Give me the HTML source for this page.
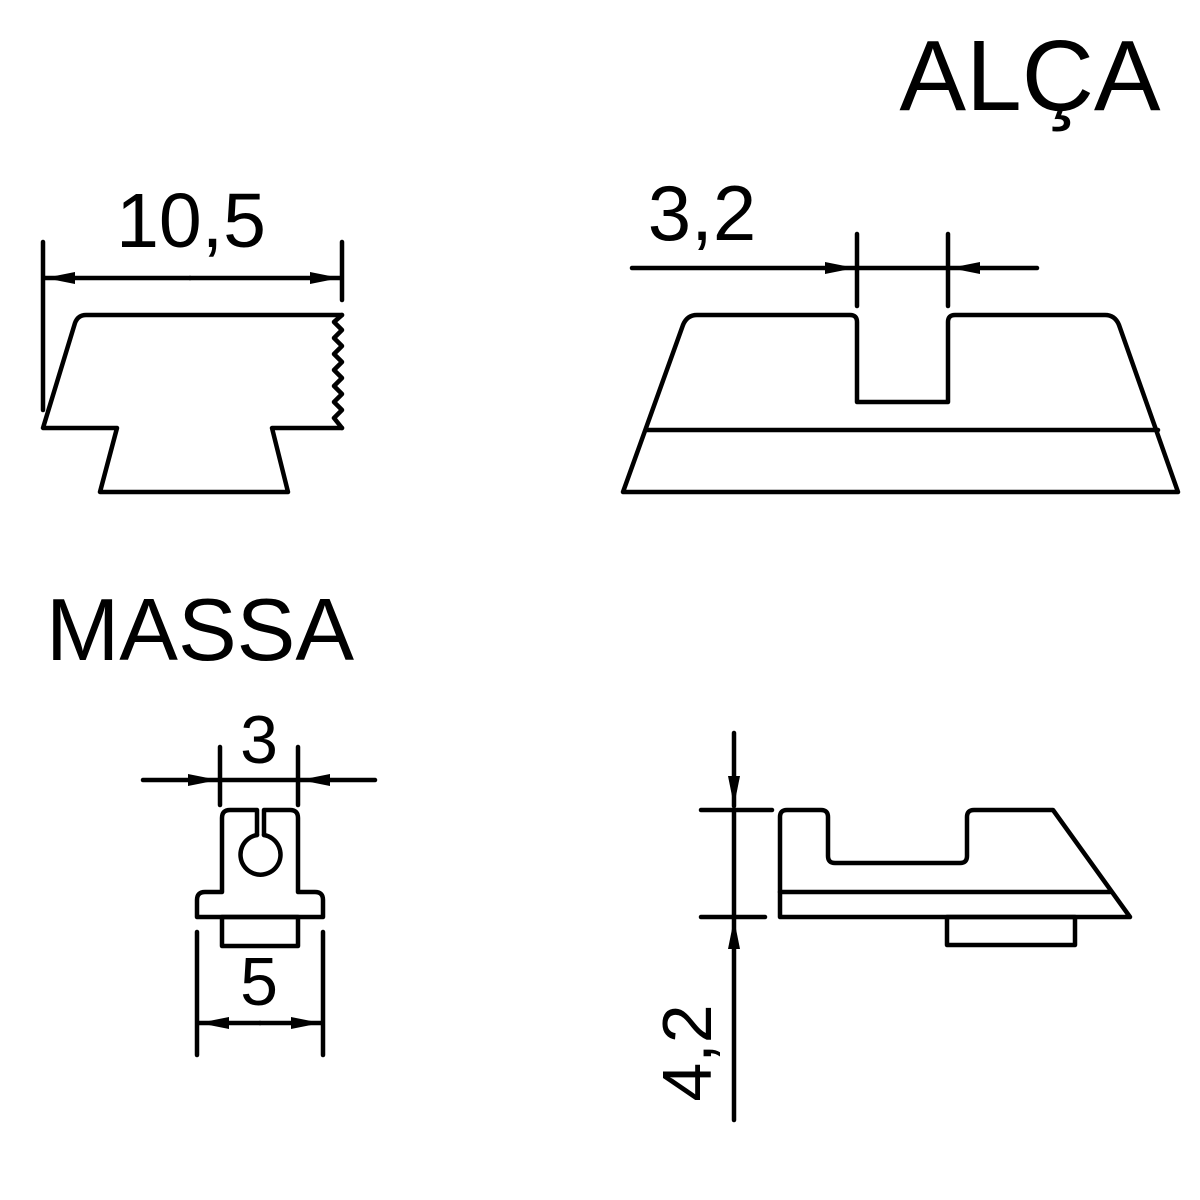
<!DOCTYPE html>
<html><head><style>body{margin:0;background:#fff}svg{display:block}</style></head><body>
<svg width="1200" height="1200" viewBox="0 0 1200 1200" xmlns="http://www.w3.org/2000/svg">
<defs>
<marker id="a" viewBox="0 0 30 12" refX="30" refY="6" markerWidth="30" markerHeight="12" markerUnits="userSpaceOnUse" orient="auto"><path d="M0,0 L30,6 L0,12 z" fill="#000"/></marker>
</defs>
<g fill="none" stroke="#000" stroke-width="4.5" stroke-linejoin="round" stroke-linecap="round">
<!-- Alça left view -->
<line x1="43" y1="242" x2="43" y2="410"/>
<line x1="342" y1="242" x2="342" y2="300"/>
<line x1="190" y1="278" x2="45" y2="278" marker-end="url(#a)"/>
<line x1="190" y1="278" x2="340" y2="278" marker-end="url(#a)"/>
<path d="M342,315 L86,315 Q78,315 75,323 L43,428 L117,428 L100,492 L288,492 L272,428 L342,428"/>
<path d="M342,315 L334,322 L342,330 L334,338 L342,346 L334,354 L342,362 L334,370 L342,378 L334,386 L342,394 L334,402 L342,410 L334,418 L342,428"/>
<!-- Alça right view -->
<line x1="857" y1="234" x2="857" y2="306"/>
<line x1="948" y1="234" x2="948" y2="306"/>
<line x1="632" y1="268" x2="855" y2="268" marker-end="url(#a)"/>
<line x1="1037" y1="268" x2="950" y2="268" marker-end="url(#a)"/>
<line x1="857" y1="268" x2="948" y2="268"/>
<path d="M623,492 L683,325 Q687,315 697,315 L850,315 Q857,315 857,322 L857,402 L948,402 L948,322 Q948,315 955,315 L1105,315 Q1115,315 1119,325 L1178,492 Z"/>
<line x1="647" y1="430" x2="1158" y2="430"/>
<!-- Massa front view -->
<line x1="220" y1="747" x2="220" y2="805"/>
<line x1="298" y1="747" x2="298" y2="805"/>
<line x1="143" y1="780" x2="218" y2="780" marker-end="url(#a)"/>
<line x1="375" y1="780" x2="300" y2="780" marker-end="url(#a)"/>
<line x1="220" y1="780" x2="298" y2="780"/>
<path d="M222,892 L222,818 Q222,810 230,810 L257,810 L257,835 M264,835 L264,810 L290,810 Q298,810 298,818 L298,892 L315,892 Q323,892 323,900 L323,917 L197,917 L197,900 Q197,892 205,892 L222,892"/>
<path d="M257,835 A20,20 0 1 0 264,835"/>
<rect x="222" y="917" width="76" height="29"/>
<line x1="197" y1="932" x2="197" y2="1055"/>
<line x1="323" y1="932" x2="323" y2="1055"/>
<line x1="260" y1="1023" x2="199" y2="1023" marker-end="url(#a)"/>
<line x1="260" y1="1023" x2="321" y2="1023" marker-end="url(#a)"/>
<!-- Massa side view -->
<line x1="734" y1="733" x2="734" y2="806" marker-end="url(#a)"/>
<line x1="734" y1="1120" x2="734" y2="919" marker-end="url(#a)"/>
<line x1="734" y1="810" x2="734" y2="917"/>
<line x1="701" y1="810" x2="772" y2="810"/>
<line x1="701" y1="917" x2="765" y2="917"/>
<path d="M780,917 L780,817 Q780,810 787,810 L821,810 Q828,810 828,817 L828,856 Q828,863 835,863 L960,863 Q967,863 967,856 L967,817 Q967,810 974,810 L1053,810 L1130,917 Z"/>
<line x1="780" y1="892" x2="1110" y2="892"/>
<rect x="947" y="917" width="128" height="28"/>
</g>
<g font-family="Liberation Sans, sans-serif" fill="#000">
<text x="1030" y="110" font-size="100" text-anchor="middle">ALÇA</text>
<text x="200" y="660" font-size="88" text-anchor="middle">MASSA</text>
<text x="191" y="247" font-size="77" text-anchor="middle">10,5</text>
<text x="702" y="240" font-size="78" text-anchor="middle">3,2</text>
<text x="259" y="763" font-size="68" text-anchor="middle">3</text>
<text x="259" y="1005" font-size="68" text-anchor="middle">5</text>
<text transform="translate(711,1053) rotate(-90)" font-size="70" text-anchor="middle">4,2</text>
</g>
</svg>
</body></html>
